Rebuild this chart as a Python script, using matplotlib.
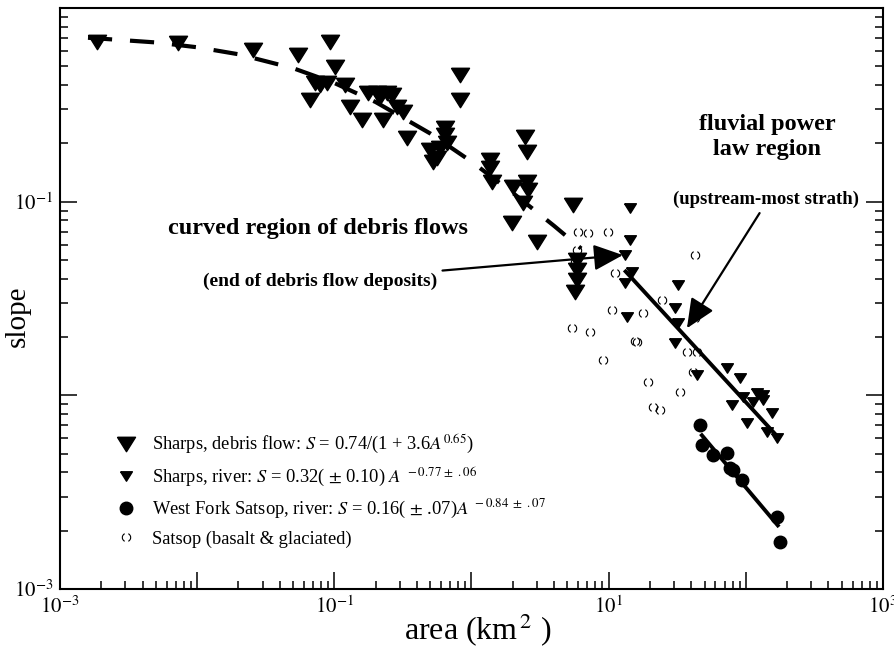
import numpy as np
import matplotlib
matplotlib.use("Agg")
import matplotlib.pyplot as plt
from matplotlib.lines import Line2D
from matplotlib.path import Path
from matplotlib.ticker import LogLocator, FuncFormatter, NullFormatter

plt.rcParams['font.family'] = 'serif'
plt.rcParams['font.serif'] = ['Liberation Serif', 'DejaVu Serif']
plt.rcParams['mathtext.fontset'] = 'stix'

# Sharps, debris flow (big triangles)
debris_area = [0.00186, 0.00724, 0.0255, 0.0543, 0.0929, 0.101, 0.0723, 0.0785, 0.0883, 0.119,
               0.0664, 0.130, 0.159, 0.226, 0.176, 0.204, 0.242, 0.263, 0.215, 0.286,
               0.316, 0.338, 0.822, 0.822, 0.640, 0.640, 0.498, 0.589, 0.662, 0.560,
               0.524, 1.36, 1.36, 1.41, 2.00, 2.53, 2.58, 2.45, 2.53, 2.37,
               1.97, 3.00, 5.48, 5.86, 5.86, 5.86, 5.67]
debris_slope = [0.667, 0.659, 0.607, 0.571, 0.667, 0.495, 0.409, 0.400, 0.409, 0.400,
                0.335, 0.308, 0.264, 0.264, 0.364, 0.364, 0.364, 0.355, 0.347, 0.308,
                0.290, 0.213, 0.451, 0.335, 0.240, 0.221, 0.185, 0.189, 0.201, 0.168,
                0.160, 0.164, 0.149, 0.126, 0.119, 0.126, 0.115, 0.216, 0.180, 0.0984,
                0.0776, 0.0618, 0.0959, 0.0500, 0.0444, 0.0394, 0.0341]

# Sharps, river (small triangles)
river_area = [14.3, 14.3, 13.1, 14.8, 13.1, 31.9, 30.4, 13.6, 31.9, 30.4, 43.9, 72.7,
              90.4, 95.1, 120, 133, 133, 112, 79.1, 155, 102, 142, 168]
river_slope = [0.0927, 0.0634, 0.0530, 0.0434, 0.0380, 0.0371, 0.0282, 0.0254, 0.0236, 0.0186,
               0.0127, 0.0138, 0.0123, 0.0098, 0.0103, 0.0100, 0.00946, 0.00923, 0.00891,
               0.00810, 0.00719, 0.00647, 0.00603]

# West Fork Satsop, river (filled circles)
wf_area = [46.2, 47.8, 57.5, 72.7, 76.4, 80.4, 93.5, 168, 177]
wf_slope = [0.00703, 0.00553, 0.00492, 0.00504, 0.00422, 0.00411, 0.00366, 0.00236, 0.00175]

# Satsop basalt & glaciated (open circles)
sat_area = [5.97, 7.05, 9.86, 5.86, 5.67, 11.1, 10.5, 17.8, 5.39, 7.29, 15.6, 16.0,
            9.07, 19.3, 33.0, 21.0, 23.6, 42.5, 24.4, 37.2, 43.9, 41.1, 42.5]
sat_slope = [0.0697, 0.0689, 0.0697, 0.0562, 0.0488, 0.0427, 0.0275, 0.0266, 0.0222, 0.0212,
             0.0190, 0.0188, 0.0152, 0.0117, 0.0104, 0.00871, 0.00839, 0.0530, 0.0310,
             0.0168, 0.0168, 0.0132, 0.0251]

# fitted lines
curve_area = [0.0016, 0.005, 0.01, 0.02, 0.05, 0.1, 0.2, 0.5, 1, 2, 4, 6.3]
curve_slope = [0.702, 0.664, 0.627, 0.577, 0.489, 0.410, 0.327, 0.225, 0.161, 0.111, 0.075, 0.0573]
river_fit_area = [13.3, 162]
river_fit_slope = [0.0436, 0.00636]
wf_fit_area = [47.8, 171]
wf_fit_slope = [0.00622, 0.00213]

tri = [(-1, 0.8), (1, 0.8), (0, -0.8), (-1, 0.8)]
arcs = Path.make_compound_path(Path.arc(115, 245), Path.arc(-65, 65))

fig = plt.figure(figsize=(8.95, 6.48), dpi=100)
ax = fig.add_axes([60 / 895, 59 / 648, 823 / 895, 581 / 648])

ax.plot(curve_area, curve_slope, color='black', lw=3, dashes=(5.8, 4.3))
ax.plot(river_fit_area, river_fit_slope, color='black', lw=2.8)
ax.plot(wf_fit_area, wf_fit_slope, color='black', lw=2.8)

ax.plot(sat_area, sat_slope, ls='none', marker=arcs, ms=6, mfc='none', mec='black', mew=0.8)
ax.plot(debris_area, debris_slope, ls='none', marker=tri, ms=13, color='black')
ax.plot(river_area, river_slope, ls='none', marker=tri, ms=8.5, color='black')
ax.plot(wf_area, wf_slope, ls='none', marker='o', ms=9, color='black')

ax.set_xscale('log')
ax.set_yscale('log')
ax.set_xlim(1e-3, 1e3)
ax.set_ylim(1e-3, 1)


def odd_decades(v, pos):
    e = int(round(np.log10(v)))
    return r'$10^{%d}$' % e if e % 2 else ''


for axis in (ax.xaxis, ax.yaxis):
    axis.set_major_locator(LogLocator(base=10, numticks=10))
    axis.set_minor_locator(LogLocator(base=10, subs=range(2, 10), numticks=10))
    axis.set_major_formatter(FuncFormatter(odd_decades))
    axis.set_minor_formatter(NullFormatter())

ax.tick_params(which='both', direction='in', right=True, top=False, width=1.1, labelsize=15)
ax.tick_params(which='major', length=12, pad=5)
ax.tick_params(which='minor', length=6)
for s in ax.spines.values():
    s.set_linewidth(1.5)

ax.set_xlabel('area (km$^{\\,2}$ )', fontsize=23)
ax.xaxis.set_label_coords(0.508, -0.040)
ax.set_ylabel('slope', fontsize=21)
ax.yaxis.set_label_coords(-0.036, 0.47)

ax.text(0.313, 0.621, 'curved region of debris flows', transform=ax.transAxes,
        fontsize=17.5, fontweight='bold', ha='center', va='center')
ax.text(0.859, 0.778, 'fluvial power\nlaw region', transform=ax.transAxes,
        fontsize=17.5, fontweight='bold', ha='center', va='center', linespacing=1.3)

ax.annotate('(end of debris flow deposits)', xy=(12.7, 0.0530), xytext=(0.56, 0.0389),
            fontsize=14, fontweight='bold', ha='right', va='center',
            arrowprops=dict(arrowstyle='-|>,head_length=0.9,head_width=0.4', mutation_scale=20,
                            lw=1.6, color='black', shrinkA=2, shrinkB=0))
ax.text(0.858, 0.670, '(upstream-most strath)', transform=ax.transAxes,
        fontsize=13.5, fontweight='bold', ha='center', va='center')
ax.annotate('', xy=(37.2, 0.0222), xytext=(126, 0.0873),
            arrowprops=dict(arrowstyle='-|>,head_length=0.9,head_width=0.4', mutation_scale=20,
                            lw=1.6, color='black', shrinkA=0, shrinkB=0))

handles = [
    Line2D([], [], ls='none', marker=tri, ms=13, color='black'),
    Line2D([], [], ls='none', marker=tri, ms=8.5, color='black'),
    Line2D([], [], ls='none', marker='o', ms=9, color='black'),
    Line2D([], [], ls='none', marker=arcs, ms=6, mfc='none', mec='black', mew=0.8),
]
labels = [
    r'Sharps, debris flow: $S$ = 0.74/(1 + 3.6$A^{0.65}$)',
    r'Sharps, river: $S$ = 0.32( $\pm$ 0.10) $A^{\ -0.77\,\pm\ .06}$',
    r'West Fork Satsop, river: $S$ = 0.16( $\pm$ .07)$A^{\ -0.84\ \pm\ .07}$',
    'Satsop (basalt & glaciated)',
]
ax.legend(handles, labels, loc='upper left', bbox_to_anchor=(0.067, 0.268), frameon=False,
          fontsize=13.3, handlelength=1.2, handletextpad=0.8, labelspacing=0.5,
          borderaxespad=0, borderpad=0)

fig.savefig('out.png', dpi=100)
